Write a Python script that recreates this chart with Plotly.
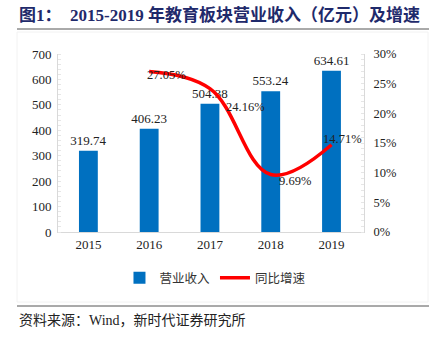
import plotly.graph_objects as go

years = ["2015", "2016", "2017", "2018", "2019"]
revenue = [319.74, 406.23, 504.38, 553.24, 634.61]
growth_years = ["2016", "2017", "2018", "2019"]
growth = [0.2705, 0.2416, 0.0969, 0.1471]
growth_labels = ["27.05%", "24.16%", "9.69%", "14.71%"]
left_ticks = [0, 100, 200, 300, 400, 500, 600, 700]
right_ticks = [0, 0.05, 0.10, 0.15, 0.20, 0.25, 0.30]
right_tick_text = ["0%", "5%", "10%", "15%", "20%", "25%", "30%"]

W, H = 429, 338
L, R, T, B = 58, 65, 54, 106
pw, ph = W - L - R, H - T - B

def pxx(x):
    return (x - L) / pw

def pyy(y):
    return (H - B - y) / ph

serif = "Liberation Serif, Times New Roman, Noto Sans CJK SC, serif"
cjk = "Noto Sans CJK SC, sans-serif"
tc = "#222"

fig = go.Figure()
fig.add_trace(go.Bar(
    x=years, y=revenue, name="营业收入",
    marker=dict(color="#0070C0", line=dict(width=0)),
    text=[f"{v:.2f}" for v in revenue], textposition="outside",
    textfont=dict(family=serif, size=13, color=tc),
    constraintext="none", cliponaxis=False,
))
fig.add_trace(go.Scatter(
    x=growth_years, y=growth, name="同比增速", yaxis="y2",
    mode="lines",
    line=dict(color="#FF0000", width=3.5, shape="spline", smoothing=1.1),
))

# label offsets (pixels) for the growth labels
label_shifts = [(17, -3), (36, -18), (24, -6), (11, 6)]
for gx, gy, lab, (dx, dy) in zip(growth_years, growth, growth_labels, label_shifts):
    fig.add_annotation(x=years.index(gx), y=gy, xref="x", yref="y2", text=lab,
                       showarrow=False, xshift=dx, yshift=dy,
                       font=dict(family=serif, size=12.5, color=tc))

fig.update_layout(
    width=W, height=H, margin=dict(l=L, r=R, t=T, b=B),
    paper_bgcolor="white", plot_bgcolor="white",
    bargap=0.69, showlegend=True,
    xaxis=dict(type="category",
               showline=True, linecolor="#D9D9D9", linewidth=1,
               ticks="", tickfont=dict(family=serif, size=13, color=tc)),
    yaxis=dict(range=[0, 700], tickvals=left_ticks, showgrid=False, zeroline=False,
               showline=True, linecolor="#D9D9D9", ticks="", ticklabelstandoff=3,
               minor=dict(ticks="inside", ticklen=3, tickcolor="#E6E6E6", dtick=20, showgrid=False),
               tickfont=dict(family=serif, size=13, color=tc)),
    yaxis2=dict(range=[0, 0.30], tickvals=right_ticks, ticktext=right_tick_text,
                overlaying="y", side="right", showgrid=False, zeroline=False,
                showline=True, linecolor="#D9D9D9", ticks="", ticklabelstandoff=6,
                minor=dict(ticks="inside", ticklen=3, tickcolor="#E6E6E6", dtick=0.01, showgrid=False),
                tickfont=dict(family=serif, size=12.5, color=tc)),
    legend=dict(orientation="h", x=0.513, xanchor="center", y=pyy(278), yanchor="middle",
                font=dict(family=cjk, size=12.5, color="#333"),
                traceorder="normal"),
)

fig.add_annotation(xref="paper", yref="paper", x=pxx(17), y=pyy(15), xanchor="left", yanchor="middle",
                   text="<b>图1：  2015-2019 年教育板块营业收入（亿元）及增速</b>", showarrow=False,
                   font=dict(family=serif, size=17, color="#1F2A6B"))
fig.add_shape(type="line", xref="paper", yref="paper", x0=pxx(17), x1=pxx(429), y0=pyy(29), y1=pyy(29),
              line=dict(color="#555", width=1))
fig.add_shape(type="rect", xref="paper", yref="paper", x0=pxx(17), x1=pxx(428), y0=pyy(32), y1=pyy(302),
              line=dict(color="#F2F2F2", width=1), layer="below")
fig.add_shape(type="line", xref="paper", yref="paper", x0=pxx(17), x1=pxx(429), y0=pyy(306), y1=pyy(306),
              line=dict(color="#555", width=1))
fig.add_annotation(xref="paper", yref="paper", x=pxx(17), y=pyy(320), xanchor="left", yanchor="middle",
                   text="资料来源：Wind，新时代证券研究所", showarrow=False,
                   font=dict(family=serif, size=14, color=tc))

fig.write_html("out.html")
